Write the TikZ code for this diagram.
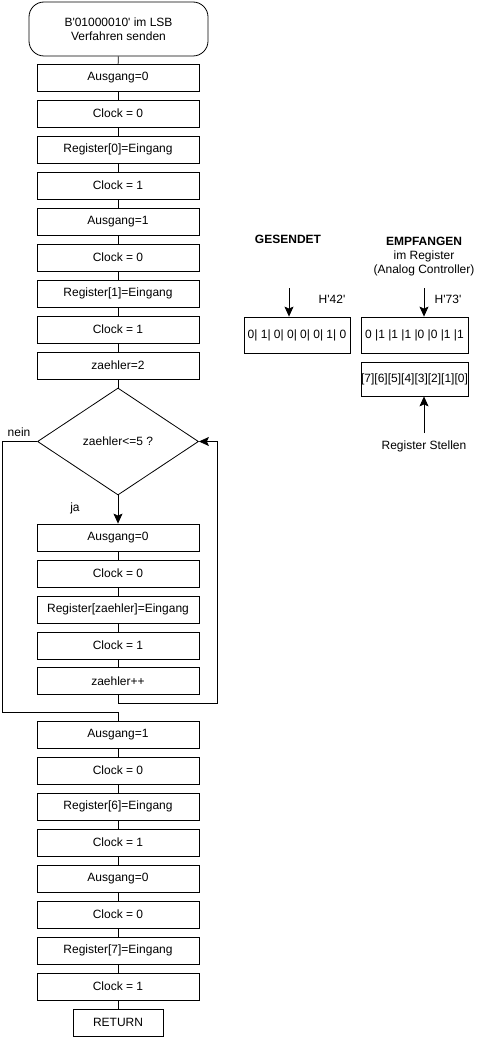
\documentclass[tikz,border=0pt]{standalone}
\usepackage{fontspec}
\setmainfont{Liberation Sans}[Ligatures=TeXOff]
\usetikzlibrary{shapes.geometric,arrows.meta}
\begin{document}
\begin{tikzpicture}[x=1pt,y=-1pt,
  every node/.style={font=\fontsize{12}{14}\selectfont},
  box/.style={draw,line width=0.8pt,minimum width=162pt,minimum height=27pt,inner sep=0pt},
  conn/.style={line width=0.8pt},
  arr/.style={line width=0.8pt,-{Stealth[length=10pt,width=9pt,inset=2pt]}},
  lbl/.style={inner sep=1pt}]
\useasboundingbox (0,0) rectangle (480,1038);
\node[draw,line width=0.8pt,rounded corners=15pt,minimum width=179pt,minimum height=54pt,align=center] (s) at (118.5,29) {B'01000010' im LSB\\Verfahren senden};
\node[box] (b1) at (118,77.5) {Ausgang=0};
\node[box] (b2) at (118,113.5) {Clock = 0};
\node[box] (b3) at (118,149.5) {Register[0]=Eingang};
\node[box] (b4) at (118,185.5) {Clock = 1};
\node[box] (b5) at (118,221.5) {Ausgang=1};
\node[box] (b6) at (118,257.5) {Clock = 0};
\node[box] (b7) at (118,293.5) {Register[1]=Eingang};
\node[box] (b8) at (118,329.5) {Clock = 1};
\node[box] (b9) at (118,365.5) {zaehler=2};
\node[draw,diamond,line width=0.8pt,minimum width=161pt,minimum height=107pt,inner sep=0pt] (d) at (118,441.5) {zaehler<=5 ?};
\node[box] (l1) at (118,537.5) {Ausgang=0};
\node[box] (l2) at (118,573.5) {Clock = 0};
\node[box] (l3) at (118,609.5) {Register[zaehler]=Eingang};
\node[box] (l4) at (118,645.5) {Clock = 1};
\node[box] (l5) at (118,681) {zaehler++};
\node[box] (a1) at (118,734.5) {Ausgang=1};
\node[box] (a2) at (118,770.5) {Clock = 0};
\node[box] (a3) at (118,806.5) {Register[6]=Eingang};
\node[box] (a4) at (118,842.5) {Clock = 1};
\node[box] (a5) at (118,878.5) {Ausgang=0};
\node[box] (a6) at (118,914.5) {Clock = 0};
\node[box] (a7) at (118,950.5) {Register[7]=Eingang};
\node[box] (a8) at (118,986.5) {Clock = 1};
\node[box,minimum width=90pt] (r) at (118,1022.5) {RETURN};
% connectors
\draw[conn] (s) -- (b1);
\foreach \i/\j in {b1/b2,b2/b3,b3/b4,b4/b5,b5/b6,b6/b7,b7/b8,b8/b9,l1/l2,l2/l3,l3/l4,l4/l5,a1/a2,a2/a3,a3/a4,a4/a5,a5/a6,a6/a7,a7/a8,a8/r}
  \draw[conn] (\i.south) -- (\j.north);
\draw[conn] (b9.south) -- (d.north);
\draw[arr] (d.south) -- (l1.north);
\coordinate (lr) at (217,703);
\draw[arr] (l5.south) |- (lr) |- (d.east);
\coordinate (nl) at (2,712);
\draw[conn] (d.west) -| (nl) -| (a1.north);
\node[lbl] (nein) at (19,432) {nein};
\node[lbl] (ja) at (75,508) {ja};
% right side
\node[lbl,font=\fontsize{12}{14}\selectfont\bfseries] (ges) at (288,239) {GESENDET};
\node[lbl,align=center] (emp) at (424,257) {\textbf{EMPFANGEN}\\im Register\\(Analog Controller)};
\node[draw,line width=0.8pt,minimum width=106pt,minimum height=36pt,inner sep=0pt] (gbox) at (297,335) {0| 1| 0| 0| 0| 0| 1| 0};
\node[draw,line width=0.8pt,minimum width=107pt,minimum height=36pt,inner sep=0pt] (ebox) at (414.5,335) {0 |1 |1 |1 |0 |0 |1 |1};
\node[draw,line width=0.8pt,minimum width=107pt,minimum height=34pt,inner sep=0pt] (reg) at (414.5,379) {[7][6][5][4][3][2][1][0]};
\coordinate (gt) at (289,288);
\draw[arr] (gt) -- (gt |- gbox.north);
\coordinate (et) at (424,288);
\draw[arr] (et) -- (et |- ebox.north);
\node[lbl] (h42) at (332,299) {H'42'};
\node[lbl] (h73) at (448,299) {H'73'};
\node[lbl] (rs) at (424,446) {Register Stellen};
\coordinate (rb) at (424,433);
\draw[arr] (rb) -- (rb |- reg.south);
\end{tikzpicture}
\end{document}
